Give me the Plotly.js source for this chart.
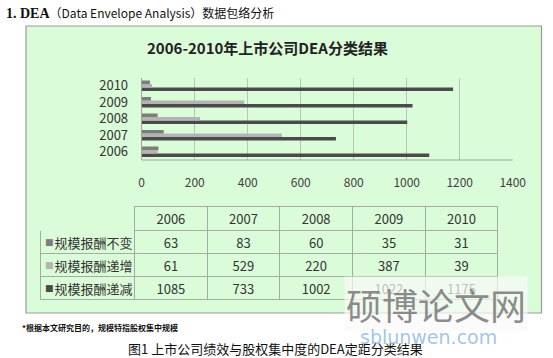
<!DOCTYPE html>
<html><head><meta charset="utf-8">
<script src="https://cdn.plot.ly/plotly-3.0.1.min.js"></script>
<style>html,body{margin:0;padding:0;background:#fff}#c{width:553px;height:358px}</style>
</head><body><div id="c"></div>
<script>
const years = ['2006','2007','2008','2009','2010'];
const seriesNames = ['规模报酬不变','规模报酬递增','规模报酬递减'];
const constantRS = [63, 83, 60, 35, 31];
const increasingRS = [61, 529, 220, 387, 39];
const decreasingRS = [1085, 733, 1002, 1022, 1175];
const xTicks = [0, 200, 400, 600, 800, 1000, 1200, 1400];
const colors = ['#7d7d7d', '#b4b4b4', '#4a4a4a'];
const seriesVals = [constantRS, increasingRS, decreasingRS];

const W = 553, H = 358;
const px = v => v / W, py = v => 1 - v / H;
const green = '#dafcd8';
const cjk = '"Noto Sans CJK SC", "Liberation Sans", sans-serif';

// Bars: draw in reverse so first series sits on top of each group
const barTraces = [2, 1, 0].map(i => ({
  type: 'bar', orientation: 'h', name: seriesNames[i],
  y: years, x: seriesVals[i],
  marker: {color: colors[i], line: {width: 0}},
  hoverinfo: 'x+name', showlegend: false
}));

const tableTop = 206, headerH = 24, rowH = 23.3;
const labelCells = seriesNames.map(n => '\u00a0\u00a0' + n);
const tableTrace = {
  type: 'table',
  domain: {x: [px(40.7), px(497.7)], y: [0.05, py(tableTop)]},
  columnwidth: [94, 72.6, 72.6, 73, 72.6, 72.6],
  header: {
    values: [''].concat(years),
    height: headerH,
    align: 'center',
    fill: {color: green},
    line: {color: [green, '#a3aba3', '#a3aba3', '#a3aba3', '#a3aba3', '#a3aba3'], width: 1},
    font: {family: cjk, size: 13, color: '#333'}
  },
  cells: {
    values: [labelCells].concat(years.map((y, j) => seriesVals.map(s => s[j]))),
    height: rowH,
    align: ['left', 'center', 'center', 'center', 'center', 'center'],
    fill: {color: green},
    line: {color: '#a3aba3', width: 1},
    font: {family: cjk, size: 13, color: '#333'}
  }
};

// legend keys inside the table's first column
const keyAnns = seriesNames.map((n, i) => ({
  xref: 'paper', yref: 'paper', x: px(43), y: py(tableTop + headerH + rowH * (i + 0.5)),
  xanchor: 'left', yanchor: 'middle', showarrow: false,
  text: '■', font: {family: '"DejaVu Sans", sans-serif', size: 9, color: colors[i]}
}));

const layout = {
  width: W, height: H,
  margin: {l: 0, r: 0, t: 0, b: 0},
  paper_bgcolor: '#ffffff', plot_bgcolor: 'rgba(0,0,0,0)',
  barmode: 'group', bargap: 0.36, bargroupgap: 0,
  xaxis: {
    domain: [px(141.7), px(512.7)], range: [0, 1400],
    tickvals: xTicks, ticktext: xTicks.map(String),
    showgrid: true, gridcolor: '#b8c6b8', gridwidth: 1,
    zeroline: false, showline: false, ticks: '',
    ticklabelstandoff: 14,
    tickfont: {family: cjk, size: 12, color: '#404040'},
    fixedrange: true
  },
  yaxis: {
    domain: [py(160), py(77.5)],
    type: 'category', categoryorder: 'array', categoryarray: years,
    showgrid: false, zeroline: false,
    showline: true, linecolor: '#9aa89a', linewidth: 1,
    ticks: '', ticklabelstandoff: 10,
    tickfont: {family: cjk, size: 13, color: '#333'},
    fixedrange: true
  },
  shapes: [
    {type: 'rect', xref: 'paper', yref: 'paper', layer: 'below',
     x0: px(26), x1: px(541.5), y0: py(313), y1: py(26),
     fillcolor: green, line: {color: '#9a9a9a', width: 1.2}},
    {type: 'line', xref: 'paper', yref: 'paper', layer: 'above',
     x0: px(141.7), x1: px(512.7), y0: py(160), y1: py(160),
     line: {color: '#9aa89a', width: 1}}
  ],
  annotations: keyAnns.concat([
    {xref: 'paper', yref: 'paper', x: px(4), y: py(13), xanchor: 'left', yanchor: 'middle', showarrow: false,
     text: '<b><span style="font-family:Liberation Serif,serif;font-size:14px">1. DEA</span></b>（Data Envelope Analysis）数据包络分析',
     font: {family: cjk, size: 12, color: '#111'}},
    {xref: 'paper', yref: 'paper', x: px(267), y: py(48), xanchor: 'center', yanchor: 'middle', showarrow: false,
     text: '<b>2006-2010年上市公司DEA分类结果</b>',
     font: {family: cjk, size: 15, color: '#222'}},
    {xref: 'paper', yref: 'paper', x: px(20), y: py(327), xanchor: 'left', yanchor: 'middle', showarrow: false,
     text: '<b>*根据本文研究目的，规模特指股权集中规模</b>',
     font: {family: cjk, size: 8, color: '#111'}},
    {xref: 'paper', yref: 'paper', x: px(436), y: py(304), xanchor: 'center', yanchor: 'middle', showarrow: false,
     text: '硕博论文网', bgcolor: 'rgba(250,250,250,0.7)', borderpad: 1,
     font: {family: cjk, size: 36, color: 'rgba(120,120,120,0.85)'}},
    {xref: 'paper', yref: 'paper', x: px(428), y: py(337), xanchor: 'center', yanchor: 'middle', showarrow: false,
     text: 'sblunwen.com',
     font: {family: '"DejaVu Sans", sans-serif', size: 19, color: 'rgba(150,190,230,0.9)'}},
    {xref: 'paper', yref: 'paper', x: px(275), y: py(348), xanchor: 'center', yanchor: 'middle', showarrow: false,
     text: '图1 上市公司绩效与股权集中度的DEA定距分类结果',
     font: {family: cjk, size: 13, color: '#111'}}
  ])
};

Plotly.newPlot('c', barTraces.concat([tableTrace]), layout, {displayModeBar: false, staticPlot: true});
</script></body></html>
